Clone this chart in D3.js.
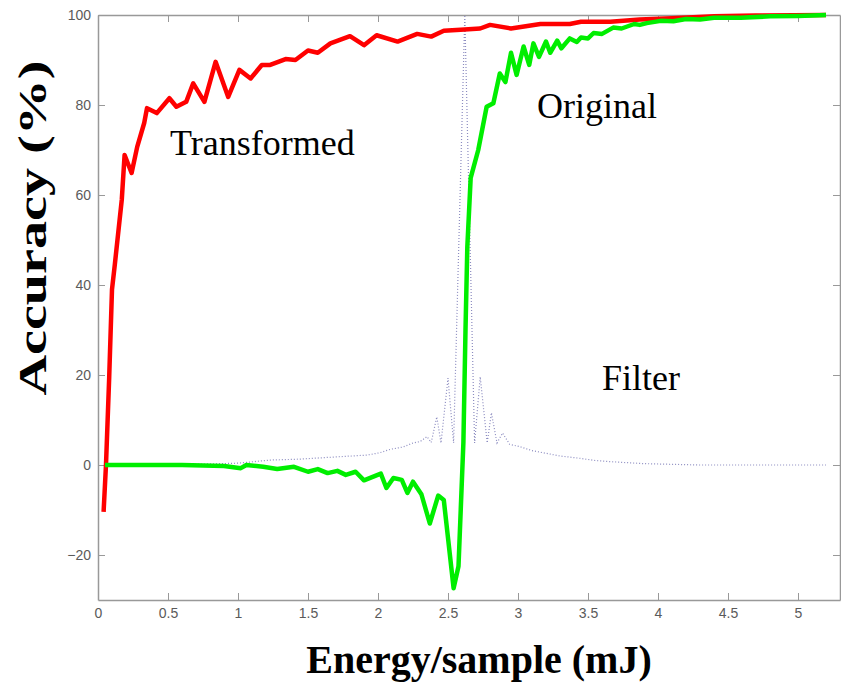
<!DOCTYPE html>
<html>
<head>
<meta charset="utf-8">
<script src="https://d3js.org/d3.v7.min.js"></script>
<style>
  body { margin: 0; background: #fff; }
  .tick text { font-family: "Liberation Sans", Arial, sans-serif; font-size: 14px; fill: #5a5a5a; }
  .tick line, .domain { stroke: #999; }
</style>
</head>
<body>
<div id="chart"></div>
<script>
// ---- data ----
var xTicks = [0, 0.5, 1, 1.5, 2, 2.5, 3, 3.5, 4, 4.5, 5];
var yTicks = [-20, 0, 20, 40, 60, 80, 100];

var transformedX = [0.04, 0.057, 0.08, 0.10, 0.12, 0.17, 0.19, 0.24, 0.28, 0.33, 0.35, 0.42, 0.51, 0.56, 0.63, 0.68, 0.76, 0.84, 0.93, 1.01, 1.09, 1.17, 1.23, 1.34, 1.41, 1.50, 1.57, 1.66, 1.80, 1.90, 1.99, 2.14, 2.28, 2.38, 2.47, 2.59, 2.73, 2.80, 2.95, 3.16, 3.37, 3.45, 3.66, 3.87, 4.1, 4.4, 4.7, 5.2];
var transformedY = [-10.4, 0, 19.5, 39, 44.5, 59, 68.9, 64.9, 70.7, 76, 79.3, 78.2, 81.5, 79.6, 80.7, 84.8, 80.7, 89.6, 81.8, 87.8, 85.9, 88.9, 88.9, 90.2, 90, 92.1, 91.6, 93.7, 95.3, 93.3, 95.5, 94.1, 95.8, 95.2, 96.5, 96.7, 97, 97.8, 97, 98, 98, 98.5, 98.5, 99, 99.3, 99.7, 99.9, 100];

var originalX = [0.05, 0.3, 0.6, 0.9, 1.02, 1.06, 1.18, 1.28, 1.40, 1.50, 1.57, 1.64, 1.71, 1.77, 1.84, 1.90, 2.02, 2.06, 2.11, 2.17, 2.21, 2.25, 2.31, 2.37, 2.43, 2.47, 2.54, 2.575, 2.61, 2.625, 2.638, 2.662, 2.716, 2.776, 2.824, 2.87, 2.91, 2.95, 2.99, 3.04, 3.08, 3.11, 3.15, 3.20, 3.23, 3.28, 3.31, 3.37, 3.42, 3.45, 3.50, 3.54, 3.60, 3.68, 3.74, 3.83, 3.87, 3.92, 4.02, 4.11, 4.2, 4.3, 4.4, 4.59, 4.8, 5.0, 5.2];
var originalY = [0, 0, 0, -0.2, -0.7, 0, -0.4, -0.9, -0.4, -1.5, -0.9, -1.8, -1.3, -2.2, -1.5, -3.4, -1.9, -5.1, -2.9, -3.3, -6.2, -3.7, -6.5, -13, -6.8, -7.8, -27.4, -22.5, 5, 30, 48.5, 63.8, 70, 79.6, 80.4, 87, 85.1, 91.6, 86.7, 93, 88.9, 93.7, 90.7, 94.1, 91.6, 94.3, 92.6, 94.8, 94.0, 95, 94.8, 96, 95.8, 97.2, 97, 98, 97.8, 98.2, 98.7, 98.6, 99.1, 99.0, 99.4, 99.4, 99.7, 99.8, 100];

var filterX = [0.05, 0.6, 1.0, 1.23, 1.44, 1.7, 1.92, 2.01, 2.09, 2.18, 2.25, 2.3, 2.35, 2.38, 2.42, 2.45, 2.50, 2.54, 2.62, 2.69, 2.73, 2.78, 2.81, 2.85, 2.89, 2.94, 3.01, 3.1, 3.2, 3.3, 3.44, 3.55, 3.68, 3.9, 4.3, 4.8, 5.2];
var filterY = [0, 0.1, 0.4, 1.1, 1.3, 1.8, 2.2, 2.7, 3.5, 4.0, 4.9, 5.2, 6.3, 5.0, 10.7, 4.9, 19.3, 4.9, 100, 4.9, 19.6, 4.9, 11.6, 4.9, 7.1, 4.6, 4.1, 3.2, 2.6, 2.0, 1.5, 1.0, 0.7, 0.3, 0, 0, 0];

// ---- layout ----
var W = 841, H = 686;
var margin = {top: 15, right: 1, bottom: 86, left: 98};
var width = W - margin.left - margin.right,
    height = H - margin.top - margin.bottom;

var svg = d3.select("#chart").append("svg")
    .attr("width", W)
    .attr("height", H);

var g = svg.append("g")
    .attr("transform", "translate(" + margin.left + "," + margin.top + ")");

var x = d3.scaleLinear().domain([0, 5.3]).range([0, width]);
var y = d3.scaleLinear().domain([-30, 100]).range([height, 0]);

// axes, MATLAB-like box with inward ticks
g.append("g")
    .attr("transform", "translate(0," + height + ")")
    .call(d3.axisBottom(x).tickValues(xTicks).tickSize(-7).tickSizeOuter(0).tickPadding(8).tickFormat(function(d){ return String(d); }));
g.append("g")
    .call(d3.axisTop(x).tickValues(xTicks).tickSize(-7).tickSizeOuter(0).tickFormat(""));
g.append("g")
    .call(d3.axisLeft(y).tickValues(yTicks).tickSize(-7).tickSizeOuter(0).tickPadding(7));
g.append("g")
    .attr("transform", "translate(" + width + ",0)")
    .call(d3.axisRight(y).tickValues(yTicks).tickSize(-7).tickSizeOuter(0).tickFormat(""));
g.selectAll(".domain").attr("stroke-width", 1.5);

function pts(xs, ys) {
  return xs.map(function(v, i) { return [v, ys[i]]; });
}
var line = d3.line()
    .x(function(d) { return x(d[0]); })
    .y(function(d) { return y(d[1]); });

// filter response (dotted)
g.append("path")
    .datum(pts(filterX, filterY))
    .attr("d", line)
    .attr("fill", "none")
    .attr("stroke", "#8c8cc0")
    .attr("stroke-width", 1.2)
    .attr("stroke-dasharray", "1,2");

g.append("path")
    .datum(pts(transformedX, transformedY))
    .attr("d", line)
    .attr("fill", "none")
    .attr("stroke", "#ff0000")
    .attr("stroke-width", 4.5)
    .attr("stroke-linejoin", "round");

g.append("path")
    .datum(pts(originalX, originalY))
    .attr("d", line)
    .attr("fill", "none")
    .attr("stroke", "#00ee00")
    .attr("stroke-width", 4.5)
    .attr("stroke-linejoin", "round");

// curve labels
var serif = "'Liberation Serif', 'Times New Roman', serif";
svg.append("text").attr("x", 170).attr("y", 155).text("Transformed")
    .style("font-family", serif).style("font-size", "36px");
svg.append("text").attr("x", 537).attr("y", 118).text("Original")
    .style("font-family", serif).style("font-size", "36px");
svg.append("text").attr("x", 602).attr("y", 390).text("Filter")
    .style("font-family", serif).style("font-size", "36px");

// axis titles
svg.append("text")
    .attr("x", 479).attr("y", 673)
    .attr("text-anchor", "middle")
    .style("font-family", serif).style("font-size", "40px").style("font-weight", "bold")
    .text("Energy/sample (mJ)");

svg.append("text")
    .attr("transform", "translate(46,228) rotate(-90)")
    .attr("text-anchor", "middle")
    .attr("textLength", 335)
    .attr("lengthAdjust", "spacingAndGlyphs")
    .style("font-family", serif).style("font-size", "40px").style("font-weight", "bold")
    .text("Accuracy (%)");
</script>
</body>
</html>
